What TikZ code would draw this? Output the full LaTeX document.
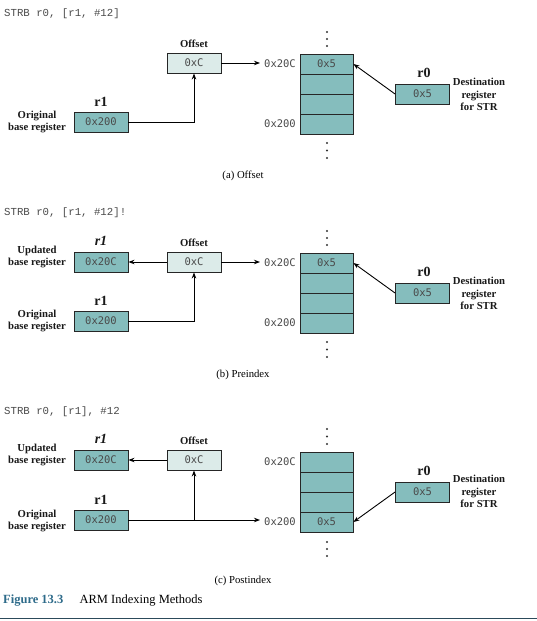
\documentclass[tikz,border=0pt]{standalone}
\usepackage{fontspec}
\setmainfont{Liberation Serif}
\newfontfamily\courf{Liberation Mono}
\newfontfamily\boxf{DejaVu Sans Mono}
\usetikzlibrary{arrows.meta,calc}
\definecolor{tealfill}{HTML}{85BDBD}
\definecolor{lightfill}{HTML}{DCEBE9}
\definecolor{monogray}{HTML}{4A4A4A}
\definecolor{figblue}{HTML}{2E6B8A}
\definecolor{ruleblue}{HTML}{2C4A5A}
\tikzset{
 reg/.style={draw=black!85, line width=0.9pt, fill=tealfill, minimum width=54pt, minimum height=20pt, inner sep=0pt, font=\boxf\fontsize{10.5}{12}\selectfont, text=monogray},
 offbox/.style={reg, fill=lightfill},
 cell/.style={reg, minimum width=53pt},
 addr/.style={font=\boxf\fontsize{10.5}{12}\selectfont, text=monogray, inner sep=0pt, anchor=east},
 code/.style={font=\courf\fontsize{10.7}{12}\selectfont, text=monogray, anchor=west, inner sep=0pt},
 lbl/.style={font=\bfseries\fontsize{10.7}{12.5}\selectfont, align=center, inner sep=0pt, text=black!90},
 reglbl/.style={font=\bfseries\fontsize{14}{14}\selectfont, inner sep=0pt, text=black!90},
 subcap/.style={font=\fontsize{10.7}{12}\selectfont, inner sep=0pt},
 arr/.style={line width=0.9pt, -{Stealth[length=6pt,width=4.5pt]}},
 dot/.style={circle, fill=black!80, inner sep=0pt, minimum size=2.2pt},
}
\begin{document}
\begin{tikzpicture}[x=1pt,y=-1pt]
\useasboundingbox (0,0) rectangle (537,621);

% ---------------- (a) Offset ----------------
\node[code] (codea) at (4,14) {STRB r0, [r1, \#12]};
\node[offbox] (offa) at (194,63) {0xC};
\node[lbl] (offla) at (194,44) {Offset};
\node[reg] (r1a) at (101,122) {0x200};
\node[reglbl] (r1la) at (101,102) {r1};
\node[lbl] (origa) at (37,122) {Original\\base register};
\node[cell] (mema1) at (326.5,64) {0x5};
\node[cell] (mema2) at (326.5,84) {};
\node[cell] (mema3) at (326.5,104) {};
\node[cell] (mema4) at (326.5,124) {};
\node[addr] (ad1a) at (296,64) {0x20C};
\node[addr] (ad2a) at (296,124) {0x200};
\node[dot] (da1) at (327,32) {};
\node[dot] (da2) at (327,39) {};
\node[dot] (da3) at (327,46) {};
\node[dot] (da4) at (327,143) {};
\node[dot] (da5) at (327,150.5) {};
\node[dot] (da6) at (327,158) {};
\node[reg] (r0a) at (422.5,94) {0x5};
\node[reglbl] (r0la) at (424,73) {r0};
\node[lbl] (desta) at (479,94.5) {Destination\\register\\for STR};
\node[subcap] (capa) at (243,176) {(a) Offset};
\draw[arr, shorten >=4pt] (offa.east) -- (offa.east -| ad1a.west);
\draw[arr] (r1a.east) -| (offa.south);
\draw[arr] (r0a.west) -- (mema1.east);

% ---------------- (b) Preindex ----------------
\begin{scope}[shift={(0,199)}]
\node[code] (codeb) at (4,14) {STRB r0, [r1, \#12]!};
\node[offbox] (offb) at (194,63) {0xC};
\node[lbl] (offlb) at (194,44) {Offset};
\node[reg] (r1ub) at (101,63) {0x20C};
\node[reglbl] (r1ulb) at (101,42) {\itshape r1};
\node[lbl] (updb) at (37,58) {Updated\\base register};
\node[reg] (r1b) at (101,122) {0x200};
\node[reglbl] (r1lb) at (101,102) {r1};
\node[lbl] (origb) at (37,122) {Original\\base register};
\node[cell] (memb1) at (326.5,64) {0x5};
\node[cell] (memb2) at (326.5,84) {};
\node[cell] (memb3) at (326.5,104) {};
\node[cell] (memb4) at (326.5,124) {};
\node[addr] (ad1b) at (296,64) {0x20C};
\node[addr] (ad2b) at (296,124) {0x200};
\node[dot] (db1) at (327,32) {};
\node[dot] (db2) at (327,39) {};
\node[dot] (db3) at (327,46) {};
\node[dot] (db4) at (327,143) {};
\node[dot] (db5) at (327,150.5) {};
\node[dot] (db6) at (327,158) {};
\node[reg] (r0b) at (422.5,94) {0x5};
\node[reglbl] (r0lb) at (424,73) {r0};
\node[lbl] (destb) at (479,94.5) {Destination\\register\\for STR};
\node[subcap] (capb) at (243,176) {(b) Preindex};
\draw[arr, shorten >=4pt] (offb.east) -- (offb.east -| ad1b.west);
\draw[arr] (offb.west) -- (r1ub.east);
\draw[arr] (r1b.east) -| (offb.south);
\draw[arr] (r0b.west) -- (memb1.east);
\end{scope}

% ---------------- (c) Postindex ----------------
\begin{scope}[shift={(0,397)}]
\node[code] (codec) at (4,15) {STRB r0, [r1], \#12};
\node[offbox] (offc) at (194,63) {0xC};
\node[lbl] (offlc) at (194,44) {Offset};
\node[reg] (r1uc) at (101,63) {0x20C};
\node[reglbl] (r1ulc) at (101,42) {\itshape r1};
\node[lbl] (updc) at (37,58) {Updated\\base register};
\node[reg] (r1c) at (101,123) {0x200};
\node[reglbl] (r1lc) at (101,103) {r1};
\node[lbl] (origc) at (37,124) {Original\\base register};
\node[cell] (memc1) at (326.5,65) {};
\node[cell] (memc2) at (326.5,85) {};
\node[cell] (memc3) at (326.5,105) {};
\node[cell] (memc4) at (326.5,125) {0x5};
\node[addr] (ad1c) at (296,65) {0x20C};
\node[addr] (ad2c) at (296,124.5) {0x200};
\node[dot] (dc1) at (327,32) {};
\node[dot] (dc2) at (327,39.5) {};
\node[dot] (dc3) at (327,47) {};
\node[dot] (dc4) at (327,145) {};
\node[dot] (dc5) at (327,152) {};
\node[dot] (dc6) at (327,159) {};
\node[reg] (r0c) at (422.5,95) {0x5};
\node[reglbl] (r0lc) at (424,74) {r0};
\node[lbl] (destc) at (479,94.5) {Destination\\register\\for STR};
\node[subcap] (capc) at (243,184) {(c) Postindex};
\coordinate (jc) at (offc.south |- r1c.east);
\draw[arr, shorten >=4pt] (r1c.east) -- (r1c.east -| ad2c.west);
\draw[arr] (jc) -- (offc.south);
\draw[arr] (offc.west) -- (r1uc.east);
\draw[arr] (r0c.west) -- (memc4.east);
\end{scope}

% ---------------- caption ----------------
\node[anchor=west, inner sep=0pt, font=\fontsize{12.5}{14}\selectfont] (fig) at (3,601)
  {\textcolor{figblue}{\textbf{Figure 13.3}}\hspace{1.3em}ARM Indexing Methods};
\draw[ruleblue, line width=1.5pt] (0,618.5) -- (537,618.5);
\end{tikzpicture}
\end{document}
